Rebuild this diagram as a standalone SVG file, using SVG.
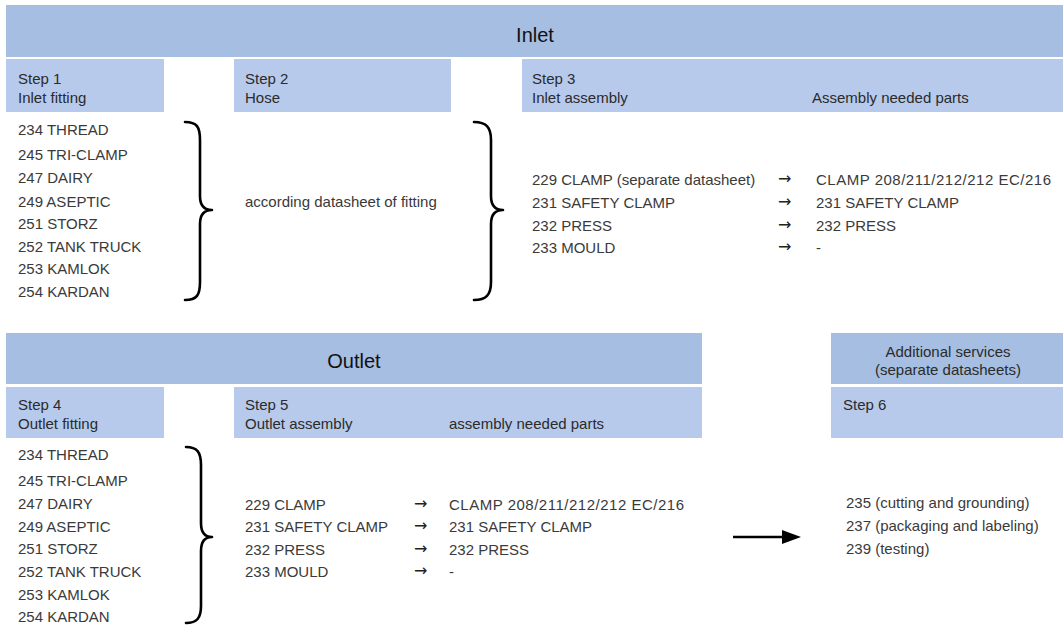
<svg xmlns="http://www.w3.org/2000/svg" width="1063" height="626" viewBox="0 0 1063 626">
<style>
.band{fill:#a5bee2}
.box{fill:#b7caeb}
text{font-family:"Liberation Sans",Arial,sans-serif;font-size:15px;fill:#2b2b2b}
.title{font-size:20px;fill:#111}
.ctr{text-anchor:middle}
.item{fill:#3a3a3a}
.arr{font-family:"DejaVu Sans",sans-serif;font-size:16px;fill:#222}
.brace{fill:none;stroke:#000;stroke-width:2.6;stroke-linecap:round;stroke-linejoin:round}
</style>
<rect width="1063" height="626" fill="#fff"/>

<g id="inlet-header">
<rect class="band" x="6" y="5" width="1057" height="52"/>
<text class="title ctr" x="535" y="42">Inlet</text>
</g>

<g id="step1">
<rect class="box" x="6" y="59" width="158" height="53"/>
<text x="18" y="84">Step 1</text>
<text x="18" y="103">Inlet fitting</text>
<text class="item" x="18" y="135">234 THREAD</text>
<text class="item" x="18" y="160">245 TRI-CLAMP</text>
<text class="item" x="18" y="183">247 DAIRY</text>
<text class="item" x="18" y="207">249 ASEPTIC</text>
<text class="item" x="18" y="229">251 STORZ</text>
<text class="item" x="18" y="252">252 TANK TRUCK</text>
<text class="item" x="18" y="274">253 KAMLOK</text>
<text class="item" x="18" y="297">254 KARDAN</text>
</g>

<g id="step2">
<rect class="box" x="234" y="59" width="217" height="53"/>
<text x="245" y="84">Step 2</text>
<text x="245" y="103">Hose</text>
<text class="item" x="245" y="207">according datasheet of fitting</text>
</g>

<g id="step3">
<rect class="box" x="522" y="59" width="541" height="53"/>
<text x="532" y="84">Step 3</text>
<text x="532" y="103">Inlet assembly</text>
<text x="812" y="103">Assembly needed parts</text>
<text class="item" x="532" y="185">229 CLAMP (separate datasheet)</text>
<text class="item" x="532" y="208">231 SAFETY CLAMP</text>
<text class="item" x="532" y="231">232 PRESS</text>
<text class="item" x="532" y="253">233 MOULD</text>
<text class="arr" x="778" y="184">→</text>
<text class="arr" x="778" y="207">→</text>
<text class="arr" x="778" y="230">→</text>
<text class="arr" x="778" y="252">→</text>
<text class="item" x="816" y="185" textLength="235" lengthAdjust="spacing">CLAMP 208/211/212/212 EC/216</text>
<text class="item" x="816" y="208">231 SAFETY CLAMP</text>
<text class="item" x="816" y="231">232 PRESS</text>
<text class="item" x="816" y="253">-</text>
</g>

<g id="outlet-header">
<rect class="band" x="6" y="333" width="696" height="51"/>
<text class="title ctr" x="354" y="368">Outlet</text>
</g>

<g id="step4">
<rect class="box" x="6" y="387" width="158" height="51"/>
<text x="18" y="410">Step 4</text>
<text x="18" y="429">Outlet fitting</text>
<text class="item" x="18" y="460">234 THREAD</text>
<text class="item" x="18" y="486">245 TRI-CLAMP</text>
<text class="item" x="18" y="509">247 DAIRY</text>
<text class="item" x="18" y="532">249 ASEPTIC</text>
<text class="item" x="18" y="554">251 STORZ</text>
<text class="item" x="18" y="577">252 TANK TRUCK</text>
<text class="item" x="18" y="600">253 KAMLOK</text>
<text class="item" x="18" y="622">254 KARDAN</text>
</g>

<g id="step5">
<rect class="box" x="234" y="387" width="468" height="51"/>
<text x="245" y="410">Step 5</text>
<text x="245" y="429">Outlet assembly</text>
<text x="449" y="429">assembly needed parts</text>
<text class="item" x="245" y="510">229 CLAMP</text>
<text class="item" x="245" y="532">231 SAFETY CLAMP</text>
<text class="item" x="245" y="555">232 PRESS</text>
<text class="item" x="245" y="577">233 MOULD</text>
<text class="arr" x="414" y="509">→</text>
<text class="arr" x="414" y="531">→</text>
<text class="arr" x="414" y="554">→</text>
<text class="arr" x="414" y="576">→</text>
<text class="item" x="449" y="510" textLength="235" lengthAdjust="spacing">CLAMP 208/211/212/212 EC/216</text>
<text class="item" x="449" y="532">231 SAFETY CLAMP</text>
<text class="item" x="449" y="555">232 PRESS</text>
<text class="item" x="449" y="577">-</text>
</g>

<g id="additional-services">
<rect class="band" x="831" y="333" width="232" height="51"/>
<text class="ctr" x="948" y="357">Additional services</text>
<text class="ctr" x="948" y="375">(separate datasheets)</text>
</g>

<g id="step6">
<rect class="box" x="831" y="387" width="232" height="51"/>
<text x="843" y="410">Step 6</text>
<text class="item" x="846" y="508">235 (cutting and grounding)</text>
<text class="item" x="846" y="531">237 (packaging and labeling)</text>
<text class="item" x="846" y="554">239 (testing)</text>
</g>

<g id="connectors">
<path class="brace" d="M185,122 C197,122 200,127 200,140 L200,196 C200,205 204,210 212,210 C204,210 200,215 200,224 L200,282 C200,295 197,300 185,300"/>
<path class="brace" d="M474,122 C486,122 491,127 491,140 L491,196 C491,205 495,210 503,210 C495,210 491,215 491,224 L491,282 C491,295 486,300 474,300"/>
<path class="brace" d="M186,447 C197,447 201,452 201,465 L201,523 C201,532 205,537 212,537 C205,537 201,542 201,551 L201,606 C201,618 197,623 186,623"/>
<line x1="733" y1="537" x2="784" y2="537" stroke="#000" stroke-width="2.5"/>
<polygon points="782,530 801,537 782,544" fill="#000"/>
</g>
</svg>
